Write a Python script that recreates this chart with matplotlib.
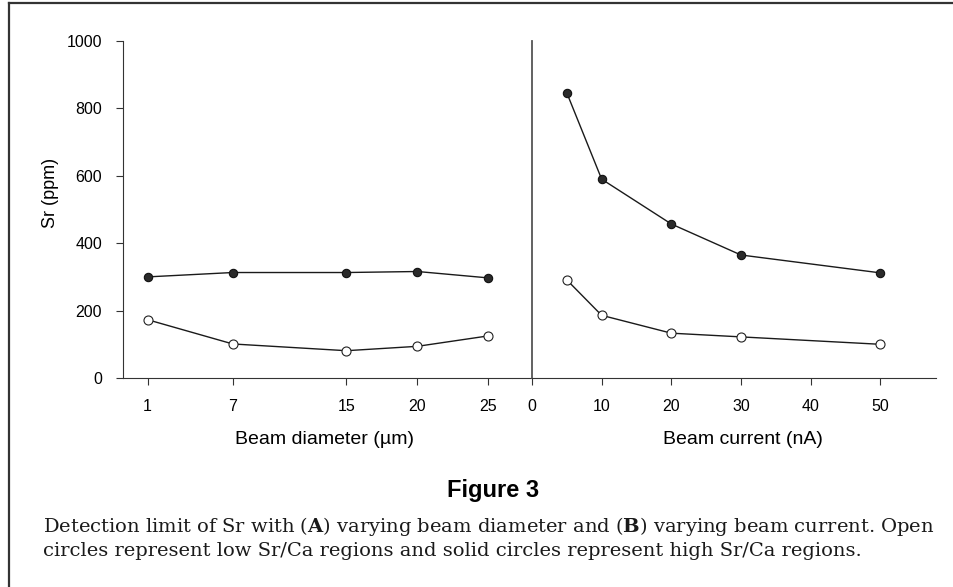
import matplotlib
matplotlib.use("Agg")
import matplotlib.pyplot as plt
from matplotlib.lines import Line2D

# Panel A: beam diameter (um)
diam = [1, 7, 15, 20, 25]
diam_high = [300, 313, 313, 316, 297]
diam_low = [173, 101, 81, 94, 125]
diam_ticks = [1, 7, 15, 20, 25]

# Panel B: beam current (nA)
current = [5, 10, 20, 30, 50]
current_high = [846, 590, 457, 365, 312]
current_low = [291, 186, 133, 122, 100]
current_ticks = [0, 10, 20, 30, 40, 50]

y_ticks = [0, 200, 400, 600, 800, 1000]

W, H = 954, 587
plt.rcParams['font.family'] = ['Liberation Sans', 'DejaVu Sans']
plt.rcParams['mathtext.fontset'] = 'dejavuserif'

fig = plt.figure(figsize=(W / 100, H / 100), dpi=100)

def fx(px):
    return px / W

def fy(py):
    return 1 - py / H

ax1 = fig.add_axes([fx(123), fy(378), fx(532 - 123), (378 - 41) / H])
ax2 = fig.add_axes([fx(532), fy(378), fx(936 - 532), (378 - 41) / H])

line_kw = dict(color='#1a1a1a', lw=1.0)
high_kw = dict(marker='o', ms=6, mfc='#2a2a2a', mec='#111111', mew=0.8)
low_kw = dict(marker='o', ms=6.5, mfc='white', mec='#222222', mew=0.8)

ax1.plot(diam, diam_high, **line_kw, **high_kw)
ax1.plot(diam, diam_low, **line_kw, **low_kw)
ax2.plot(current, current_high, **line_kw, **high_kw)
ax2.plot(current, current_low, **line_kw, **low_kw)

for ax in (ax1, ax2):
    ax.set_ylim(0, 1000)
    ax.spines['top'].set_visible(False)
    ax.spines['right'].set_visible(False)
    ax.spines['bottom'].set_color('#333333')
    ax.tick_params(axis='x', direction='out', length=5, width=0.8,
                   color='#333333', pad=10, labelsize=11.5)
    ax.patch.set_alpha(0)

ax1.set_xlim(-0.73, 28.07)
ax1.set_xticks(diam_ticks)
ax1.set_yticks(y_ticks)
ax1.spines['left'].set_color('#333333')
ax1.tick_params(axis='y', direction='out', length=5, width=0.8,
                color='#333333', pad=10, labelsize=11.5)

ax2.set_xlim(0, 58)
ax2.set_xticks(current_ticks)
ax2.set_yticks([])
ax2.spines['left'].set_color('#555555')
ax2.spines['left'].set_linewidth(1.3)

fig.text(fx(51), fy(193), 'Sr (ppm)', rotation=90, ha='center', va='center',
         fontsize=13)
fig.text(fx(325), fy(440), 'Beam diameter (\u00b5m)', ha='center', va='center',
         fontsize=14)
fig.text(fx(743), fy(440), 'Beam current (nA)', ha='center', va='center',
         fontsize=14)

fig.text(fx(493), fy(491), 'Figure 3', ha='center', va='center',
         fontsize=17, fontweight='bold')

cap1 = r'Detection limit of Sr with ($\mathbf{A}$) varying beam diameter and ($\mathbf{B}$) varying beam current. Open'
cap2 = 'circles represent low Sr/Ca regions and solid circles represent high Sr/Ca regions.'
fig.text(fx(43), fy(526), cap1, ha='left', va='center', fontsize=14,
         family='DejaVu Serif', color='#1a1a1a')
fig.text(fx(43), fy(551), cap2, ha='left', va='center', fontsize=14,
         family='DejaVu Serif', color='#1a1a1a')

# frame around the figure (only top and left edges fall inside the image)
fig.add_artist(Line2D([fx(9), 1], [fy(3), fy(3)], color='#333333', lw=1.6,
                      transform=fig.transFigure))
fig.add_artist(Line2D([fx(9), fx(9)], [fy(3), 0], color='#333333', lw=1.6,
                      transform=fig.transFigure))

fig.savefig('out.png', dpi=100)
